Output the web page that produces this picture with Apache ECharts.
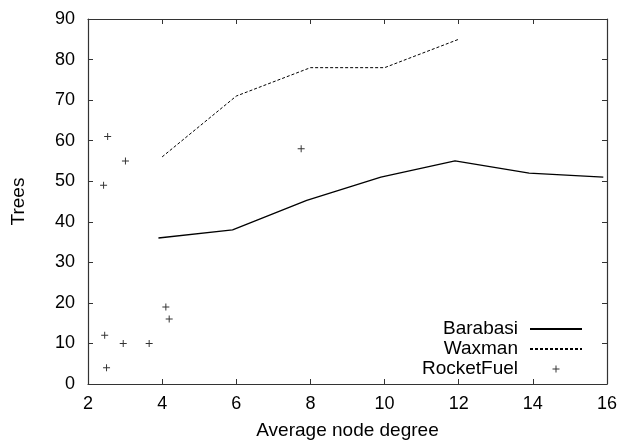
<!DOCTYPE html>
<html>
<head>
<meta charset="utf-8">
<script src="https://cdn.jsdelivr.net/npm/echarts@6/dist/echarts.min.js"></script>
<style>html,body{margin:0;padding:0;background:#fff}#c{width:623px;height:442px}</style>
</head>
<body>
<div id="c"></div>
<script>
const barabasiX = [3.9, 5.9, 7.9, 9.9, 11.9, 13.9, 15.9];
const barabasiY = [36, 38, 45.3, 51, 55, 52, 51];
const waxmanX = [4, 6, 8, 10, 12];
const waxmanY = [56, 71, 78, 78, 85];
const rocketX = [2.45, 2.5, 2.42, 2.53, 2.95, 3.01, 3.65, 4.1, 4.19, 7.75];
const rocketY = [12, 4, 49, 61, 10, 55, 10, 19, 16, 58];
const seriesNames = ['Barabasi', 'Waxman', 'RocketFuel'];
const xName = 'Average node degree';
const yName = 'Trees';

const zip = (xs, ys) => xs.map((x, i) => [x, ys[i]]);
const plus = 'path://M0,4.3h10v1.4h-10z M4.3,0h1.4v10h-1.4z';
const font = 'Liberation Sans, Arial, Helvetica, sans-serif';
const axisCol = '#333';

const chart = echarts.init(document.getElementById('c'), null, {renderer: 'canvas'});
const baseX = {type: 'value', min: 2, max: 16, interval: 2,
  axisLine: {show: true, onZero: false, lineStyle: {color: axisCol, width: 1.2}},
  axisTick: {show: true, inside: true, length: 5, lineStyle: {color: axisCol}},
  splitLine: {show: false}};
const baseY = {type: 'value', min: 0, max: 90, interval: 10,
  axisLine: {show: true, onZero: false, lineStyle: {color: axisCol, width: 1.2}},
  axisTick: {show: true, inside: true, length: 5, lineStyle: {color: axisCol}},
  splitLine: {show: false}};
const hidden = {color: 'rgba(0,0,0,0)', borderWidth: 0, opacity: 0};

chart.setOption({
  animation: false,
  backgroundColor: '#fff',
  textStyle: {fontFamily: font},
  grid: {left: 88, right: 16, top: 19, bottom: 58, containLabel: false, outerBoundsMode: 'none'},
  xAxis: [
    Object.assign({}, baseX, {position: 'bottom', name: xName, nameLocation: 'middle', nameGap: 37,
      nameTextStyle: {fontSize: 19, color: '#000', fontFamily: font},
      axisLabel: {fontSize: 18, color: '#000', margin: 11, fontFamily: font}}),
    Object.assign({}, baseX, {position: 'top', axisLabel: {show: false}})
  ],
  yAxis: [
    Object.assign({}, baseY, {position: 'left', name: yName, nameLocation: 'middle', nameGap: 60,
      nameTextStyle: {fontSize: 19, color: '#000', fontFamily: font},
      axisLabel: {fontSize: 18, color: '#000', margin: 13, fontFamily: font}}),
    Object.assign({}, baseY, {position: 'right', axisLabel: {show: false}})
  ],
  legend: {
    orient: 'vertical', right: 35, top: 314, align: 'right', itemGap: 0,
    itemWidth: 52, itemHeight: 7,
    textStyle: {fontSize: 19, color: '#000', fontFamily: font, padding: [0, 7, 0, 0], lineHeight: 20},
    data: [
      {name: seriesNames[0], itemStyle: hidden},
      {name: seriesNames[1], itemStyle: hidden},
      {name: seriesNames[2], icon: plus, itemStyle: {color: '#000'}}
    ]
  },
  series: [
    {name: seriesNames[0], type: 'line', data: zip(barabasiX, barabasiY), symbol: 'none',
      lineStyle: {color: '#000', width: 1.3}, itemStyle: {color: '#000'}},
    {name: seriesNames[1], type: 'line', data: zip(waxmanX, waxmanY), symbol: 'none',
      lineStyle: {color: '#000', width: 1, type: [3, 2]}, itemStyle: {color: '#000'}},
    {name: seriesNames[2], type: 'scatter', data: zip(rocketX, rocketY), symbol: plus, symbolSize: 7,
      itemStyle: {color: '#000'}}
  ]
});
</script>
</body>
</html>
